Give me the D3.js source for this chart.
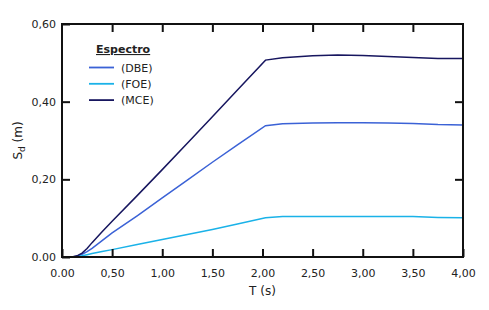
<!DOCTYPE html>
<html>
<head>
<meta charset="utf-8">
<script src="https://cdn.jsdelivr.net/npm/d3@7"></script>
<style>
  body { margin: 0; background: #fff; }
  svg text { font-family: "DejaVu Sans", Verdana, sans-serif; fill: #222; }
</style>
</head>
<body>
<div id="chart"></div>
<script>
// ===== Data =====
const periods = [0, 0.1, 0.15, 0.2, 0.25, 0.3, 0.4, 0.5, 0.75, 1.0, 1.25, 1.5, 1.75, 2.03, 2.2, 2.5, 2.75, 3.0, 3.25, 3.5, 3.75, 4.0];
const dbe = [0, 0, 0.002, 0.007, 0.014, 0.022, 0.042, 0.062, 0.106, 0.152, 0.198, 0.244, 0.289, 0.338, 0.343, 0.345, 0.346, 0.346, 0.345, 0.344, 0.341, 0.340];
const foe = [0, 0, 0.001, 0.003, 0.006, 0.009, 0.014, 0.019, 0.032, 0.045, 0.058, 0.071, 0.085, 0.101, 0.104, 0.104, 0.104, 0.104, 0.104, 0.104, 0.102, 0.101];
const mce = [0, 0, 0.003, 0.010, 0.022, 0.037, 0.065, 0.092, 0.158, 0.225, 0.293, 0.361, 0.430, 0.507, 0.513, 0.518, 0.520, 0.519, 0.516, 0.514, 0.511, 0.511];

const xTicks = [0, 0.5, 1, 1.5, 2, 2.5, 3, 3.5, 4];
const yTicks = [0, 0.2, 0.4, 0.6];

const series = [
  {name: "(DBE)", values: dbe, color: "#3b62d6"},
  {name: "(FOE)", values: foe, color: "#1ab2e8"},
  {name: "(MCE)", values: mce, color: "#17165f"}
];

// ===== Chart =====
const W = 489, H = 310;
const margin = {top: 24, right: 26, bottom: 53, left: 62};
const width = W - margin.left - margin.right;
const height = H - margin.top - margin.bottom;

const svg = d3.select("#chart").append("svg")
    .attr("width", W)
    .attr("height", H);

const g = svg.append("g")
    .attr("transform", `translate(${margin.left},${margin.top})`);

const x = d3.scaleLinear().domain([0, 4]).range([0, width]);
const y = d3.scaleLinear().domain([0, 0.6]).range([height, 0]);

// tick labels: the zero ticks use a period in the original
const fmt = d => d === 0 ? "0.00" : d3.format(".2f")(d).replace(".", ",");

// Curves
const line = d3.line()
    .x((d, i) => x(periods[i]))
    .y(d => y(d));

series.forEach(s => {
  g.append("path")
      .datum(s.values)
      .attr("fill", "none")
      .attr("stroke", s.color)
      .attr("stroke-width", 1.5)
      .attr("d", line);
});

// Axes: ticks point inwards, on all four sides
const tickLen = 8;
g.append("g")
    .attr("transform", `translate(0,${height})`)
    .call(d3.axisBottom(x).tickValues(xTicks).tickSizeInner(-tickLen).tickSizeOuter(0).tickPadding(12).tickFormat(fmt))
    .call(a => a.select(".domain").remove());
g.append("g")
    .call(d3.axisTop(x).tickValues(xTicks.slice(1, -1)).tickSizeInner(-tickLen).tickSizeOuter(0).tickFormat(""))
    .call(a => a.select(".domain").remove());
g.append("g")
    .call(d3.axisLeft(y).tickValues(yTicks).tickSizeInner(-tickLen).tickSizeOuter(0).tickPadding(6).tickFormat(fmt))
    .call(a => a.select(".domain").remove());
g.append("g")
    .attr("transform", `translate(${width},0)`)
    .call(d3.axisRight(y).tickValues(yTicks.slice(1, -1)).tickSizeInner(-tickLen).tickSizeOuter(0).tickFormat(""))
    .call(a => a.select(".domain").remove());

g.selectAll(".tick line").attr("stroke", "#111").attr("stroke-width", 2);
g.selectAll(".tick text").style("font-size", "11px").attr("fill", "#333");

// Frame
g.append("rect")
    .attr("width", width)
    .attr("height", height)
    .attr("fill", "none")
    .attr("stroke", "#111")
    .attr("stroke-width", 2);

// Axis titles
svg.append("text")
    .attr("x", margin.left + x(2))
    .attr("y", 295)
    .attr("text-anchor", "middle")
    .style("font-size", "12px")
    .text("T (s)");

const yt = svg.append("text")
    .attr("transform", `translate(22,${margin.top + height / 2}) rotate(-90)`)
    .attr("text-anchor", "middle")
    .style("font-size", "12px");
yt.append("tspan").text("S");
yt.append("tspan").attr("dy", 3).style("font-size", "9px").text("d");
yt.append("tspan").attr("dy", -3).text(" (m)");

// Legend
const legend = svg.append("g").attr("transform", "translate(89,53)");
legend.append("text")
    .attr("x", 7)
    .attr("y", 0)
    .style("font-size", "11px")
    .style("font-weight", "bold")
    .style("text-decoration", "underline")
    .text("Espectro");

series.forEach((s, i) => {
  const row = legend.append("g").attr("transform", `translate(0,${14.5 + i * 16.3})`);
  row.append("line")
      .attr("x1", 0).attr("x2", 25)
      .attr("stroke", s.color)
      .attr("stroke-width", 1.8);
  row.append("text")
      .attr("x", 32)
      .attr("y", 4)
      .style("font-size", "11px")
      .text(s.name);
});
</script>
</body>
</html>
